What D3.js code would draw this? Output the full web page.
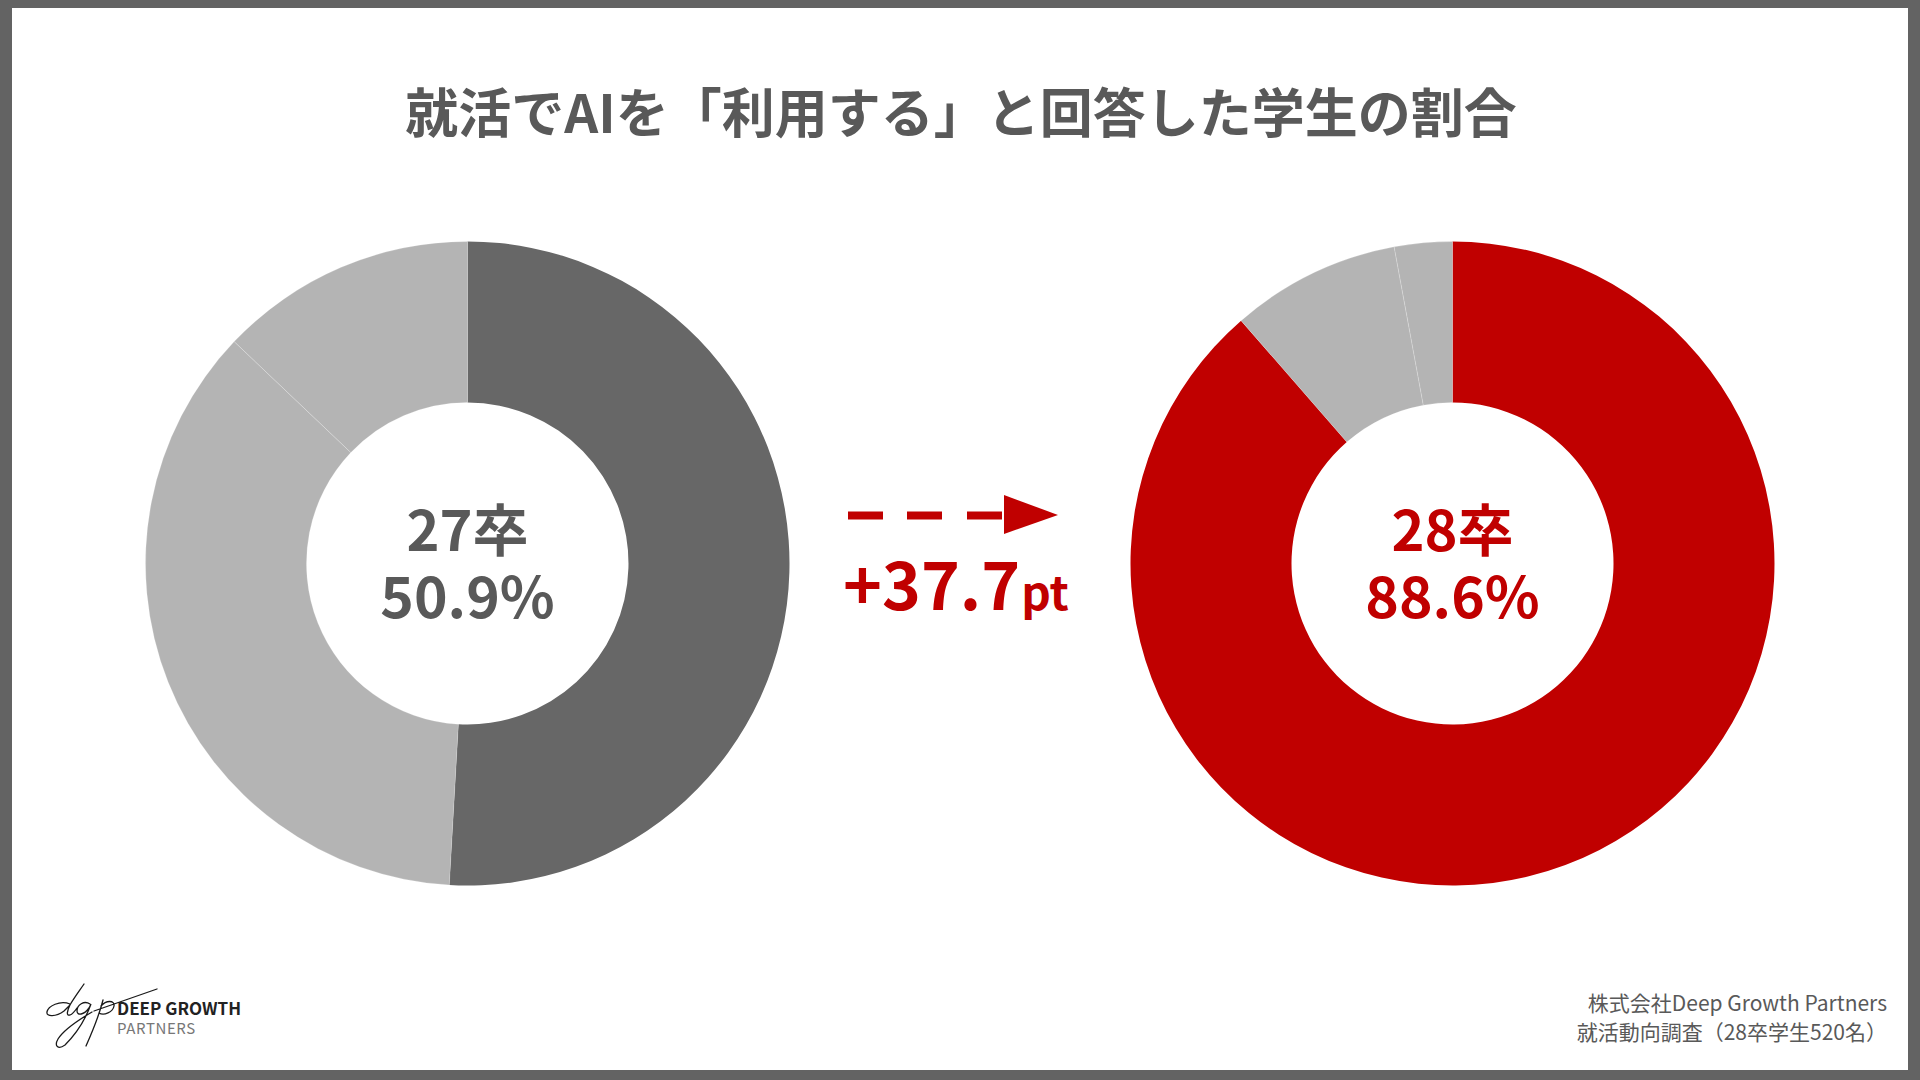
<!DOCTYPE html>
<html>
<head>
<meta charset="utf-8">
<script src="https://cdn.jsdelivr.net/npm/d3@7"></script>
<style>
  html, body { margin: 0; padding: 0; background: #fff; }
  svg { display: block; }
  text { font-family: "Noto Sans CJK JP", "Noto Sans", sans-serif; }
</style>
</head>
<body>
<svg id="chart" width="1920" height="1080"></svg>
<script>
// ---- data ----
const titleText = "就活でAIを「利用する」と回答した学生の割合";
const cohorts = ["27卒", "28卒"];
const useShare = [50.9, 88.6];      // 「利用する」
const restShareA = [36.2, 8.5];     // remaining answers (grey)
const restShareB = [12.9, 2.9];     // remaining answers (grey)
const diffUnit = "pt";
const sourceLines = ["株式会社Deep Growth Partners", "就活動向調査（28卒学生520名）"];
const logoLines = ["DEEP GROWTH", "PARTNERS"];

// ---- style ----
const W = 1920, H = 1080;
const frameColor = "#636363";
const textGray = "#595959";
const red = "#c00000";
const darkGray = "#676767";
const lightGray = "#b4b4b4";

const svg = d3.select("#chart");

// frame
svg.append("rect").attr("x", 0).attr("y", 0).attr("width", W).attr("height", H).attr("fill", frameColor);
svg.append("rect").attr("x", 12).attr("y", 8).attr("width", W - 24).attr("height", H - 18).attr("fill", "#fff");

// title
svg.append("text")
  .attr("x", 961).attr("y", 133)
  .attr("text-anchor", "middle")
  .attr("font-size", 53).attr("font-weight", 700)
  .attr("fill", textGray)
  .text(titleText);

// donuts
const xPos = d3.scalePoint().domain(cohorts).range([467.5, 1452.5]);
const cy = 563.5;
const outerR = 322, innerR = 161;
const pie = d3.pie().sort(null).value(d => d.v);
const arc = d3.arc().innerRadius(innerR).outerRadius(outerR);
const mainColors = [darkGray, red];
const labelColors = [textGray, red];

cohorts.forEach((c, i) => {
  const slices = [
    { k: "use", v: useShare[i] },
    { k: "a", v: restShareA[i] },
    { k: "b", v: restShareB[i] }
  ];
  const g = svg.append("g").attr("transform", `translate(${xPos(c)},${cy})`);
  g.selectAll("path").data(pie(slices)).join("path")
    .attr("d", arc)
    .attr("fill", d => d.data.k === "use" ? mainColors[i] : lightGray)
    .attr("stroke", d => d.data.k === "use" ? "none" : "rgba(255,255,255,0.2)")
    .attr("stroke-width", 1);

  g.append("text")
    .attr("x", 0).attr("y", 551 - cy)
    .attr("text-anchor", "middle")
    .attr("font-size", 56).attr("font-weight", 700)
    .attr("fill", labelColors[i])
    .text(c);
  g.append("text")
    .attr("x", 0).attr("y", 618 - cy)
    .attr("text-anchor", "middle")
    .attr("font-size", 57).attr("font-weight", 700)
    .attr("fill", labelColors[i])
    .text(useShare[i].toFixed(1) + "%");
});

// dashed arrow
const arrowG = svg.append("g");
const dashStarts = [848, 907, 967];
arrowG.selectAll("rect.dash").data(dashStarts).join("rect")
  .attr("class", "dash")
  .attr("x", d => d).attr("y", 511.5)
  .attr("width", 35).attr("height", 8)
  .attr("fill", red);
arrowG.append("path")
  .attr("d", "M1004,495 L1058,515 L1004,534 Z")
  .attr("fill", red);

// difference label
const diff = (useShare[1] - useShare[0]).toFixed(1);
const diffText = svg.append("text")
  .attr("x", 956).attr("y", 610)
  .attr("text-anchor", "middle")
  .attr("font-weight", 700)
  .attr("fill", red);
diffText.append("tspan").attr("font-size", 66).text("+" + diff);
diffText.append("tspan").attr("font-size", 46).attr("dx", 1).text(diffUnit);

// source
svg.selectAll("text.src").data(sourceLines).join("text")
  .attr("class", "src")
  .attr("x", 1887).attr("y", (d, i) => 1011 + i * 29)
  .attr("text-anchor", "end")
  .attr("font-size", 21)
  .attr("fill", textGray)
  .text(d => d);

// logo
const logo = svg.append("g");
logo.append("path")
  .attr("d",
    // d
    "M70,1004 C60,1000 48,1006 47,1012 C46,1017 56,1017 64,1011 L70,1005 C74,998 80,990 84,984 " +
    "M70,1005 C67,1011 66,1016 70,1015 C73,1014 75,1011 77,1008 " +
    // g
    "M90,1004 C84,1000 77,1005 77,1011 C77,1016 84,1015 89,1008 L91,1004 C86,1018 76,1034 65,1045 C58,1050 54,1046 58,1039 C63,1031 75,1022 92,1012 " +
    // p
    "M103,1000 C100,1012 94,1028 86,1046 M101,1006 C106,1000 115,1000 114,1006 C113,1012 104,1016 99,1013 " +
    // cross stroke
    "M94,1011 L157,989")
  .attr("fill", "none")
  .attr("stroke", "#1a1a1a")
  .attr("stroke-width", 1.3)
  .attr("stroke-linecap", "round");
logo.append("text")
  .attr("x", 117).attr("y", 1015)
  .attr("font-size", 17).attr("font-weight", 700)
  .attr("fill", "#222")
  .text(logoLines[0]);
logo.append("text")
  .attr("x", 117).attr("y", 1034)
  .attr("font-size", 15)
  .attr("letter-spacing", 0.6)
  .attr("fill", "#777")
  .text(logoLines[1]);
</script>
</body>
</html>
